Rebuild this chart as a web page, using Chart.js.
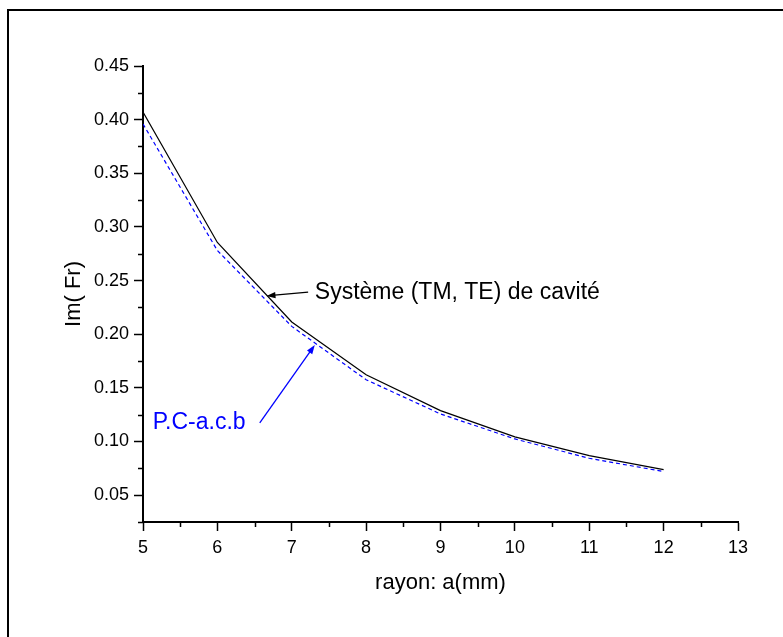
<!DOCTYPE html>
<html>
<head>
<meta charset="utf-8">
<title>Im(Fr) vs rayon</title>
<script src="https://cdn.jsdelivr.net/npm/chart.js@4.4.0/dist/chart.umd.min.js"></script>
<style>
  html, body { margin: 0; padding: 0; background: #fff; overflow: hidden; }
  #wrap { position: relative; width: 783px; height: 637px; }
</style>
</head>
<body>
<div id="wrap"><canvas id="chart" width="783" height="637"></canvas></div>
<script>
// data
const rayon = [5, 6, 7, 8, 9, 10, 11, 12];
const systemeTmTe = [0.407, 0.2855, 0.2114, 0.1623, 0.1288, 0.1043, 0.0869, 0.0738];
const pcAcb = [0.396, 0.278, 0.2073, 0.1576, 0.1257, 0.1024, 0.0844, 0.0720];

const xTicks = [5, 6, 7, 8, 9, 10, 11, 12, 13];
const yTicks = [0.05, 0.10, 0.15, 0.20, 0.25, 0.30, 0.35, 0.40, 0.45];
const xMinor = [5.5, 6.5, 7.5, 8.5, 9.5, 10.5, 11.5, 12.5];
const yMinor = [0.025, 0.075, 0.125, 0.175, 0.225, 0.275, 0.325, 0.375, 0.425];

const xTitle = 'rayon: a(mm)';
const yTitle = 'Im( Fr)';
const labelBlack = 'Système (TM, TE) de cavité';
const labelBlue = 'P.C-a.c.b';

// annotation anchors in data units: text, arrow tail, arrow head
const noteBlack = { text: [7.31, 0.2386], tail: [7.22, 0.2393], head: [6.66, 0.2357] };
const noteBlue = { text: [5.13, 0.1176], tail: [6.57, 0.1173], head: [7.31, 0.1900] };

const FONT = "'Liberation Sans', Arial, sans-serif";

function pts(ys) {
  return rayon.map((x, i) => ({ x: x, y: ys[i] }));
}

// small filled arrow from tail to head
function arrow(ctx, x1, y1, x2, y2, color) {
  const ang = Math.atan2(y2 - y1, x2 - x1);
  const len = 9, half = 3.2;
  ctx.save();
  ctx.strokeStyle = color;
  ctx.fillStyle = color;
  ctx.lineWidth = 1.3;
  ctx.beginPath();
  ctx.moveTo(x1, y1);
  ctx.lineTo(x2 - Math.cos(ang) * len * 0.6, y2 - Math.sin(ang) * len * 0.6);
  ctx.stroke();
  ctx.beginPath();
  ctx.moveTo(x2, y2);
  ctx.lineTo(x2 - Math.cos(ang) * len + Math.sin(ang) * half, y2 - Math.sin(ang) * len - Math.cos(ang) * half);
  ctx.lineTo(x2 - Math.cos(ang) * len - Math.sin(ang) * half, y2 - Math.sin(ang) * len + Math.cos(ang) * half);
  ctx.closePath();
  ctx.fill();
  ctx.restore();
}

// frame, minor ticks, axis titles and the two labelled arrows
const extras = {
  id: 'extras',
  beforeDraw(chart) {
    const ctx = chart.ctx;
    ctx.save();
    ctx.strokeStyle = '#000';
    ctx.lineWidth = 2;
    ctx.beginPath();
    ctx.moveTo(8, 640);
    ctx.lineTo(8, 10);
    ctx.lineTo(790, 10);
    ctx.stroke();
    ctx.restore();
  },
  afterDraw(chart) {
    const ctx = chart.ctx;
    const xs = chart.scales.x, ys = chart.scales.y;
    const area = chart.chartArea;

    ctx.save();
    ctx.strokeStyle = '#000';
    ctx.lineWidth = 1.5;
    ctx.beginPath();
    yMinor.forEach(v => {
      const py = Math.round(ys.getPixelForValue(v)) + 0.5;
      ctx.moveTo(area.left - 5, py);
      ctx.lineTo(area.left, py);
    });
    xMinor.forEach(v => {
      const px = Math.round(xs.getPixelForValue(v)) + 0.5;
      ctx.moveTo(px, area.bottom);
      ctx.lineTo(px, area.bottom + 5);
    });
    ctx.stroke();

    // axis titles
    ctx.fillStyle = '#000';
    ctx.font = '22px ' + FONT;
    ctx.textAlign = 'center';
    ctx.textBaseline = 'middle';
    ctx.fillText(xTitle, (area.left + area.right) / 2, area.bottom + 61);
    ctx.save();
    ctx.translate(area.left - 69, (area.top + area.bottom) / 2);
    ctx.rotate(-Math.PI / 2);
    ctx.fillText(yTitle, 0, 0);
    ctx.restore();

    // annotations
    ctx.textAlign = 'left';
    ctx.font = '23px ' + FONT;
    ctx.fillStyle = '#000';
    ctx.fillText(labelBlack, xs.getPixelForValue(noteBlack.text[0]), ys.getPixelForValue(noteBlack.text[1]));
    arrow(ctx, xs.getPixelForValue(noteBlack.tail[0]), ys.getPixelForValue(noteBlack.tail[1]),
      xs.getPixelForValue(noteBlack.head[0]), ys.getPixelForValue(noteBlack.head[1]), '#000');

    ctx.fillStyle = '#0000ff';
    ctx.fillText(labelBlue, xs.getPixelForValue(noteBlue.text[0]), ys.getPixelForValue(noteBlue.text[1]));
    arrow(ctx, xs.getPixelForValue(noteBlue.tail[0]), ys.getPixelForValue(noteBlue.tail[1]),
      xs.getPixelForValue(noteBlue.head[0]), ys.getPixelForValue(noteBlue.head[1]), '#0000ff');
    ctx.restore();
  }
};

const ctx = document.getElementById('chart').getContext('2d');
new Chart(ctx, {
  type: 'line',
  data: {
    datasets: [
      {
        label: labelBlack,
        data: pts(systemeTmTe),
        borderColor: '#000',
        borderWidth: 1.2,
        pointRadius: 0,
        tension: 0
      },
      {
        label: labelBlue,
        data: pts(pcAcb),
        borderColor: '#0000ff',
        borderWidth: 1.2,
        borderDash: [4, 3],
        pointRadius: 0,
        tension: 0
      }
    ]
  },
  options: {
    responsive: false,
    animation: false,
    events: [],
    layout: { padding: { top: 66, right: 45, bottom: 0, left: 0 } },
    plugins: { legend: { display: false }, tooltip: { enabled: false } },
    scales: {
      x: {
        type: 'linear',
        min: 5,
        max: 13,
        afterFit: s => { s.height = 115; },
        afterBuildTicks: s => { s.ticks = xTicks.map(v => ({ value: v })); },
        border: { display: true, color: '#000', width: 2 },
        grid: { drawOnChartArea: false, drawTicks: true, tickLength: 9, tickColor: '#000', tickWidth: 1.5 },
        ticks: { color: '#000', padding: 6, maxRotation: 0, font: { family: FONT, size: 18 } }
      },
      y: {
        type: 'linear',
        min: 0.025,
        max: 0.45,
        afterFit: s => { s.width = 143; },
        afterBuildTicks: s => { s.ticks = yTicks.map(v => ({ value: v })); },
        border: { display: true, color: '#000', width: 2 },
        grid: { drawOnChartArea: false, drawTicks: true, tickLength: 9, tickColor: '#000', tickWidth: 1.5 },
        ticks: {
          color: '#000',
          padding: 5,
          font: { family: FONT, size: 18 },
          callback: v => Number(v).toFixed(2)
        }
      }
    }
  },
  plugins: [extras]
});
</script>
</body>
</html>
